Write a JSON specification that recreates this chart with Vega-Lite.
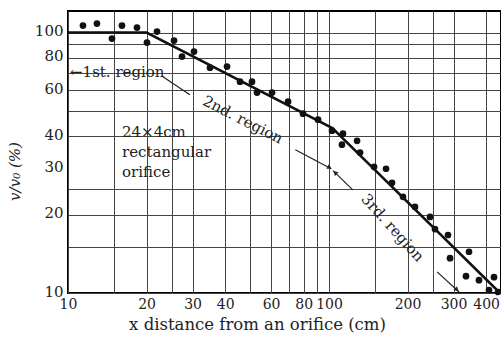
{
  "$schema": "https://vega.github.io/schema/vega-lite/v6.json",
  "width": 433,
  "height": 282,
  "autosize": "none",
  "padding": {"left": 68, "top": 11, "right": 0, "bottom": 45},
  "background": "white",
  "config": {
    "view": {"stroke": "black", "strokeWidth": 2},
    "font": "DejaVu Serif",
    "axis": {
      "labelFont": "DejaVu Serif",
      "titleFont": "DejaVu Serif",
      "labelColor": "#222",
      "titleColor": "#222",
      "titleFontWeight": "normal",
      "ticks": false,
      "domain": false,
      "gridColor": "#444",
      "gridWidth": 1,
      "labelOverlap": false,
      "labelFlush": false
    }
  },
  "datasets": {
    "pts": [
      {"x": 11.41, "y": 106.4}, {"x": 12.91, "y": 108.3}, {"x": 14.74, "y": 94.8},
      {"x": 16.10, "y": 106.4}, {"x": 18.38, "y": 104.5}, {"x": 20.07, "y": 91.5},
      {"x": 21.93, "y": 100.9}, {"x": 25.48, "y": 93.2}, {"x": 27.34, "y": 80.9},
      {"x": 30.39, "y": 84.5}, {"x": 35.0, "y": 73.3}, {"x": 40.67, "y": 74.0},
      {"x": 45.6, "y": 64.8}, {"x": 50.7, "y": 64.8}, {"x": 53.0, "y": 58.8},
      {"x": 60.5, "y": 58.8}, {"x": 69.7, "y": 54.3}, {"x": 79.5, "y": 48.8},
      {"x": 90.8, "y": 46.3}, {"x": 102.7, "y": 42.0}, {"x": 112.1, "y": 37.1},
      {"x": 113.1, "y": 40.9}, {"x": 128.1, "y": 38.4}, {"x": 131.5, "y": 34.6},
      {"x": 148.8, "y": 30.5}, {"x": 165.4, "y": 30.0}, {"x": 174.3, "y": 26.5},
      {"x": 192.1, "y": 23.4}, {"x": 213.5, "y": 21.4}, {"x": 243.8, "y": 19.6},
      {"x": 254.7, "y": 17.6}, {"x": 285.7, "y": 16.7}, {"x": 343.9, "y": 14.4},
      {"x": 290.9, "y": 13.6}, {"x": 334.9, "y": 11.6}, {"x": 375.5, "y": 11.2},
      {"x": 428.7, "y": 11.5}, {"x": 410.2, "y": 10.27}, {"x": 444.2, "y": 10.09}
    ],
    "fit": [
      {"x": 10, "y": 100}, {"x": 20, "y": 100}, {"x": 103, "y": 43}, {"x": 452, "y": 10}
    ],
    "one": [{}]
  },
  "layer": [
    {
      "data": {"name": "fit"},
      "mark": {"type": "line", "color": "#111", "strokeWidth": 2.5},
      "encoding": {
        "x": {
          "field": "x", "type": "quantitative",
          "scale": {"type": "log", "domain": [10, 456], "nice": false},
          "axis": {
            "values": [10, 15, 20, 25, 30, 40, 50, 60, 70, 80, 90, 100, 150, 200, 250, 300, 400],
            "labelExpr": "indexof([10,20,30,40,60,80,100,200,300,400], datum.value) >= 0 ? toString(datum.value) : ''",
            "labelFontSize": 14,
            "labelPadding": 4,
            "title": "x distance from an orifice (cm)",
            "titleFontSize": 16.5,
            "titleX": 189,
            "titlePadding": 5
          }
        },
        "y": {
          "field": "y", "type": "quantitative",
          "scale": {"type": "log", "domain": [10, 121], "nice": false},
          "axis": {
            "values": [10, 15, 20, 25, 30, 40, 50, 60, 70, 80, 90, 100],
            "labelExpr": "indexof([10,20,30,40,60,80,100], datum.value) >= 0 ? toString(datum.value) : ''",
            "gridOpacity": {"condition": {"test": "datum.value == 30", "value": 0}, "value": 1},
            "labelFontSize": 15,
            "labelPadding": 5,
            "labelOffset": -2,
            "title": "v/v₀ (%)",
            "titleFontSize": 15,
            "titleFontStyle": "italic",
            "titleX": -46,
            "titleY": 160
          }
        },
        "order": {"field": "x", "type": "quantitative"}
      }
    },
    {
      "data": {"name": "pts"},
      "mark": {"type": "circle", "color": "#111", "opacity": 1, "size": 45},
      "encoding": {
        "x": {"field": "x", "type": "quantitative"},
        "y": {"field": "y", "type": "quantitative"}
      }
    },
    {
      "data": {"name": "one"},
      "mark": {"type": "text", "text": "←1st. region", "align": "left", "baseline": "middle", "fontSize": 15, "color": "#222"},
      "encoding": {"x": {"datum": 10.18, "type": "quantitative"}, "y": {"datum": 70.8, "type": "quantitative"}}
    },
    {
      "data": {"name": "one"},
      "mark": {"type": "text", "text": "2nd. region", "align": "center", "baseline": "middle", "fontSize": 15, "angle": 27, "color": "#222"},
      "encoding": {"x": {"datum": 46.8, "type": "quantitative"}, "y": {"datum": 46.3, "type": "quantitative"}}
    },
    {
      "data": {"name": "one"},
      "mark": {"type": "text", "text": "24×4cm|rectangular|orifice", "lineBreak": "|", "lineHeight": 20, "align": "left", "baseline": "middle", "fontSize": 15, "color": "#222"},
      "encoding": {"x": {"datum": 16.1, "type": "quantitative"}, "y": {"datum": 41.6, "type": "quantitative"}}
    },
    {
      "data": {"name": "one"},
      "mark": {"type": "text", "text": "3rd. region", "align": "center", "baseline": "middle", "fontSize": 15, "angle": 48, "color": "#222"},
      "encoding": {"x": {"datum": 175.5, "type": "quantitative"}, "y": {"datum": 17.8, "type": "quantitative"}}
    },
    {
      "data": {"name": "one"},
      "mark": {"type": "rule", "color": "#222", "strokeWidth": 1.2},
      "encoding": {"x": {"datum": 23.1, "type": "quantitative"}, "y": {"datum": 67.7, "type": "quantitative"}, "x2": {"datum": 29.3}, "y2": {"datum": 57.7}}
    },
    {
      "data": {"name": "one"},
      "mark": {"type": "rule", "color": "#222", "strokeWidth": 1.2},
      "encoding": {"x": {"datum": 74.3, "type": "quantitative"}, "y": {"datum": 35.5, "type": "quantitative"}, "x2": {"datum": 102.0}, "y2": {"datum": 30.0}}
    },
    {
      "data": {"name": "one"},
      "mark": {"type": "rule", "color": "#222", "strokeWidth": 1.2},
      "encoding": {"x": {"datum": 123.3, "type": "quantitative"}, "y": {"datum": 24.9, "type": "quantitative"}, "x2": {"datum": 103.6}, "y2": {"datum": 29.5}}
    },
    {
      "data": {"name": "one"},
      "mark": {"type": "rule", "color": "#222", "strokeWidth": 1.2},
      "encoding": {"x": {"datum": 259.5, "type": "quantitative"}, "y": {"datum": 12.05, "type": "quantitative"}, "x2": {"datum": 315.0}, "y2": {"datum": 10.09}}
    },
    {
      "data": {"name": "one"},
      "mark": {"type": "point", "shape": "triangle-up", "filled": true, "color": "#222", "size": 28, "angle": 118, "opacity": 1},
      "encoding": {"x": {"datum": 100.5, "type": "quantitative"}, "y": {"datum": 30.3, "type": "quantitative"}}
    },
    {
      "data": {"name": "one"},
      "mark": {"type": "point", "shape": "triangle-up", "filled": true, "color": "#222", "size": 28, "angle": 313, "opacity": 1},
      "encoding": {"x": {"datum": 105.5, "type": "quantitative"}, "y": {"datum": 29.0, "type": "quantitative"}}
    },
    {
      "data": {"name": "one"},
      "mark": {"type": "point", "shape": "triangle-up", "filled": true, "color": "#222", "size": 28, "angle": 132, "opacity": 1},
      "encoding": {"x": {"datum": 309.0, "type": "quantitative"}, "y": {"datum": 10.3, "type": "quantitative"}}
    }
  ]
}
